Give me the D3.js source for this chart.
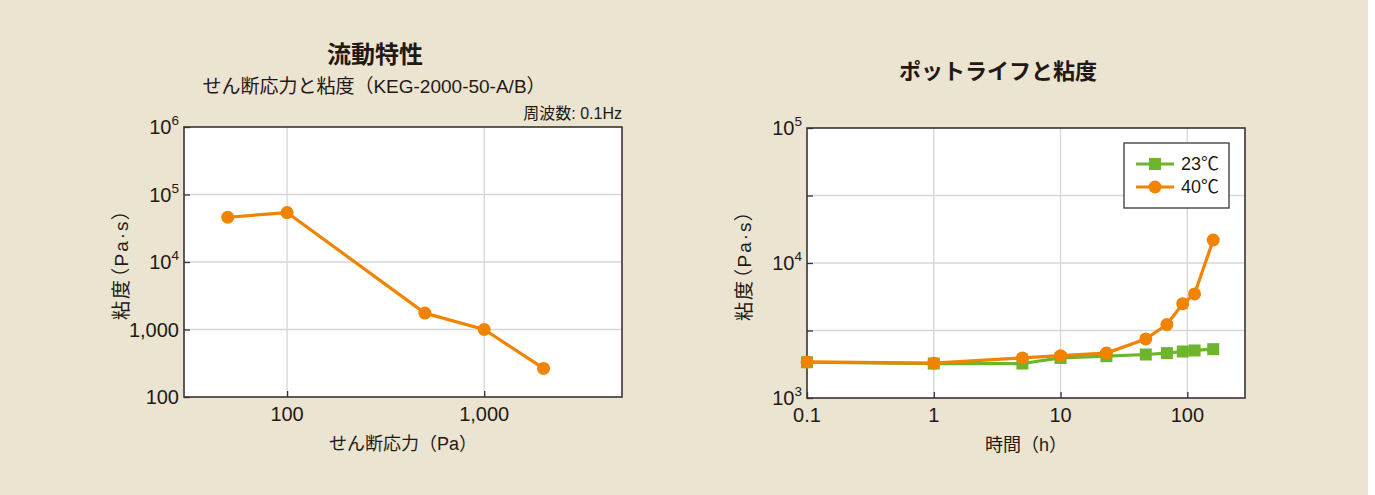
<!DOCTYPE html>
<html lang="ja">
<head>
<meta charset="utf-8">
<script src="https://cdn.jsdelivr.net/npm/d3@7/dist/d3.min.js"></script>
<style>
  html, body { margin: 0; padding: 0; background: #ffffff; }
  svg { display: block; }
  text { font-family: "Liberation Sans", "Noto Sans CJK JP", sans-serif; fill: #231815; }
  .num { font-family: "Liberation Sans", Arial, sans-serif; }
  .jp { font-family: "Noto Sans CJK JP", sans-serif; }
  .prop { font-feature-settings: "palt" 1; }
</style>
</head>
<body>
<svg id="chart" width="1375" height="495"></svg>
<script>
// ---- Flow characteristics: shear stress vs viscosity ----
const stress = [50, 100, 500, 1000, 2000];          // Pa
const stressViscosity = [46000, 54000, 1750, 1000, 265]; // Pa·s
const stressTicks = [100, 1000];
const stressTickLabels = ["100", "1,000"];
const viscTicksA = [100, 1000, 1e4, 1e5, 1e6];
const viscTickLabelsA = ["100", "1,000", "10^4", "10^5", "10^6"];

// ---- Pot life: time vs viscosity ----
const hours = [0.1, 1, 5, 10, 23, 47, 69, 92, 114, 160];
const visc23 = [1840, 1800, 1800, 1980, 2040, 2100, 2150, 2210, 2250, 2300];
const visc40 = [1850, 1810, 1980, 2060, 2150, 2740, 3500, 5000, 5900, 14800];
const seriesNames = ["23℃", "40℃"];
const hourTicks = [0.1, 1, 10, 100];
const hourTickLabels = ["0.1", "1", "10", "100"];
const viscTicksB = [1e3, 1e4, 1e5];
const viscTickLabelsB = ["10^3", "10^4", "10^5"];
const viscMinorB = [3162, 31623];

const ORANGE = "#f08300";
const GREEN = "#6db52d";
const FRAME = "#3a3232";
const GRID = "#d6d6d6";

const svg = d3.select("#chart");
svg.append("rect").attr("x", 0).attr("y", 0).attr("width", 1368).attr("height", 495).attr("fill", "#ebe4d1");

// label text with an optional "base^exp" superscript
function setLabel(sel, label) {
  const parts = label.split("^");
  sel.text(null);
  sel.append("tspan").text(parts[0]);
  if (parts.length > 1) {
    sel.append("tspan").attr("font-size", 13.5).attr("dy", -9).text(parts[1]);
  }
}

function panel(opt) {
  const g = svg.append("g");
  const x = d3.scaleLog().domain(opt.xDomain).range([opt.left, opt.right]);
  const y = d3.scaleLog().domain(opt.yDomain).range([opt.bottom, opt.top]);

  g.append("rect").attr("x", opt.left).attr("y", opt.top)
    .attr("width", opt.right - opt.left).attr("height", opt.bottom - opt.top)
    .attr("fill", "#ffffff");

  // grid
  g.append("g").selectAll("line").data(opt.xGrid).join("line")
    .attr("x1", d => x(d)).attr("x2", d => x(d))
    .attr("y1", opt.top).attr("y2", opt.bottom)
    .attr("stroke", GRID).attr("stroke-width", 1.3);
  g.append("g").selectAll("line").data(opt.yGrid).join("line")
    .attr("y1", d => y(d)).attr("y2", d => y(d))
    .attr("x1", opt.left).attr("x2", opt.right)
    .attr("stroke", GRID).attr("stroke-width", 1.3);

  // inward ticks
  const xAxis = d3.axisBottom(x).tickValues(opt.xTicks).tickSize(-6).tickFormat("");
  const gx = g.append("g").attr("transform", `translate(0,${opt.bottom})`).call(xAxis);
  const yAxis = d3.axisLeft(y).tickValues(opt.yTicks).tickSize(-6).tickFormat("");
  const gy = g.append("g").attr("transform", `translate(${opt.left},0)`).call(yAxis);
  [gx, gy].forEach(a => {
    a.select(".domain").remove();
    a.selectAll(".tick line").attr("stroke", FRAME).attr("stroke-width", 1.3);
  });

  // frame
  g.append("rect").attr("x", opt.left).attr("y", opt.top)
    .attr("width", opt.right - opt.left).attr("height", opt.bottom - opt.top)
    .attr("fill", "none").attr("stroke", FRAME).attr("stroke-width", 1.6);

  // tick labels
  g.append("g").selectAll("text").data(opt.xTickLabels.map((l, i) => [opt.xTicks[i], l])).join("text")
    .attr("class", "num").attr("x", d => x(d[0])).attr("y", opt.bottom + 24)
    .attr("text-anchor", "middle").attr("font-size", 20).text(d => d[1]);
  g.append("g").selectAll("text").data(opt.yTickLabels.map((l, i) => [opt.yLabelTicks[i], l])).join("text")
    .attr("class", "num").attr("x", opt.left - 5).attr("y", d => y(d[0]) + 7)
    .attr("text-anchor", "end").attr("font-size", 20)
    .each(function (d) { setLabel(d3.select(this), d[1]); });

  // axis titles
  g.append("text").attr("x", (opt.left + opt.right) / 2).attr("y", opt.bottom + 53)
    .attr("text-anchor", "middle").attr("font-size", 18).text(opt.xTitle);
  g.append("text").attr("class", "prop")
    .attr("transform", `translate(${opt.left - 63},${(opt.top + opt.bottom) / 2 + 2}) rotate(-90)`)
    .attr("text-anchor", "middle").attr("dominant-baseline", "central")
    .attr("font-size", 19).attr("letter-spacing", 2).text(opt.yTitle);

  return { g, x, y };
}

// left panel
const A = panel({
  left: 184, right: 622, top: 127, bottom: 397,
  xDomain: [30, 5000], yDomain: [100, 1e6],
  xGrid: stressTicks, yGrid: [1000, 1e4, 1e5],
  xTicks: stressTicks, xTickLabels: stressTickLabels,
  yTicks: viscTicksA, yLabelTicks: viscTicksA, yTickLabels: viscTickLabelsA,
  xTitle: "せん断応力（Pa）", yTitle: "粘度（Pa·s）"
});
{
  const pts = stress.map((s, i) => [s, stressViscosity[i]]);
  const line = d3.line().x(d => A.x(d[0])).y(d => A.y(d[1]));
  A.g.append("path").attr("d", line(pts)).attr("fill", "none")
    .attr("stroke", ORANGE).attr("stroke-width", 3.2).attr("stroke-linejoin", "round");
  A.g.append("g").selectAll("circle").data(pts).join("circle")
    .attr("cx", d => A.x(d[0])).attr("cy", d => A.y(d[1])).attr("r", 6.5).attr("fill", ORANGE);
}
svg.append("text").attr("class", "jp").attr("x", 375).attr("y", 63).attr("text-anchor", "middle")
  .attr("font-size", 24).attr("font-weight", "bold").text("流動特性");
svg.append("text").attr("x", 374).attr("y", 93).attr("text-anchor", "middle")
  .attr("font-size", 19).text("せん断応力と粘度（KEG-2000-50-A/B）");
svg.append("text").attr("x", 622).attr("y", 119).attr("text-anchor", "end")
  .attr("font-size", 16).text("周波数: 0.1Hz");

// right panel
const B = panel({
  left: 807, right: 1245, top: 128, bottom: 398,
  xDomain: [0.1, 285], yDomain: [1000, 1e5],
  xGrid: [1, 10, 100], yGrid: [viscMinorB[0], 1e4, viscMinorB[1]],
  xTicks: hourTicks, xTickLabels: hourTickLabels,
  yTicks: [1e3, viscMinorB[0], 1e4, viscMinorB[1], 1e5], yLabelTicks: viscTicksB, yTickLabels: viscTickLabelsB,
  xTitle: "時間（h）", yTitle: "粘度（Pa·s）"
});
{
  const line = d3.line().x(d => B.x(d[0])).y(d => B.y(d[1]));
  const p23 = hours.map((h, i) => [h, visc23[i]]);
  const p40 = hours.map((h, i) => [h, visc40[i]]);
  B.g.append("path").attr("d", line(p23)).attr("fill", "none")
    .attr("stroke", GREEN).attr("stroke-width", 3.2).attr("stroke-linejoin", "round");
  B.g.append("g").selectAll("rect").data(p23).join("rect")
    .attr("x", d => B.x(d[0]) - 6).attr("y", d => B.y(d[1]) - 6)
    .attr("width", 12).attr("height", 12).attr("fill", GREEN);
  B.g.append("path").attr("d", line(p40)).attr("fill", "none")
    .attr("stroke", ORANGE).attr("stroke-width", 3.2).attr("stroke-linejoin", "round");
  B.g.append("g").selectAll("circle").data(p40).join("circle")
    .attr("cx", d => B.x(d[0])).attr("cy", d => B.y(d[1])).attr("r", 6.5).attr("fill", ORANGE);

  // legend
  const lg = B.g.append("g").attr("transform", "translate(1124,143)");
  lg.append("rect").attr("width", 105).attr("height", 65).attr("fill", "#ffffff")
    .attr("stroke", "#4a4444").attr("stroke-width", 1.4);
  const rows = [{ name: seriesNames[0], color: GREEN, shape: "square" },
                { name: seriesNames[1], color: ORANGE, shape: "circle" }];
  rows.forEach((r, i) => {
    const cy = 21 + i * 23;
    lg.append("line").attr("x1", 12).attr("x2", 50).attr("y1", cy).attr("y2", cy)
      .attr("stroke", r.color).attr("stroke-width", 3);
    if (r.shape === "square") {
      lg.append("rect").attr("x", 25).attr("y", cy - 6).attr("width", 12).attr("height", 12).attr("fill", r.color);
    } else {
      lg.append("circle").attr("cx", 31).attr("cy", cy).attr("r", 6.5).attr("fill", r.color);
    }
    lg.append("text").attr("class", "prop").attr("x", 57).attr("y", cy + 6).attr("font-size", 18).text(r.name);
  });
}
svg.append("text").attr("class", "jp").attr("x", 998).attr("y", 79).attr("text-anchor", "middle")
  .attr("font-size", 22).attr("font-weight", "bold").text("ポットライフと粘度");
</script>
</body>
</html>
